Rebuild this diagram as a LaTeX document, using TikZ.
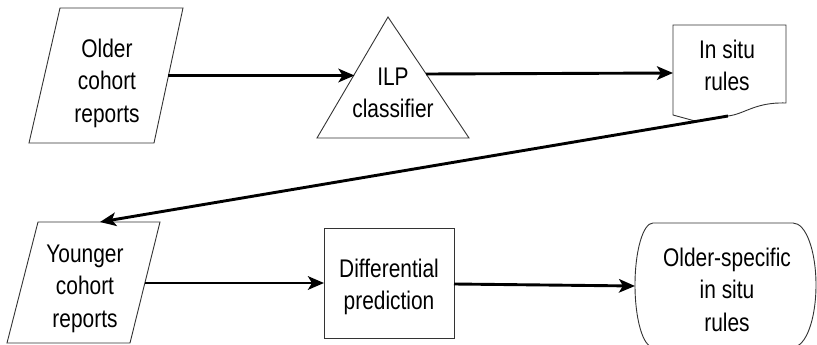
\documentclass[tikz,border=0pt]{standalone}
\usepackage{fontspec}
\setmainfont{Liberation Sans}[FakeStretch=0.82]
\usetikzlibrary{arrows.meta}
\begin{document}
\begin{tikzpicture}[x=1pt,y=-1pt,
  shapeline/.style={draw=black!80, line width=0.9pt},
  label/.style={align=center, font=\fontsize{25.5}{32.5}\selectfont, inner sep=0pt},
  flow/.style={line width=2.9pt, -{Stealth[length=16pt,width=13.5pt,inset=4pt]}}]
\useasboundingbox (0,0) rectangle (817,345);
\begin{scope}
\clip (0,0) rectangle (817,345);

% Older cohort reports (parallelogram)
\draw[shapeline] (60,8) -- (183,8) -- (154,143) -- (29,143) -- cycle;
\node[label] (older) at (107,83) {Older\\cohort\\reports};
\coordinate (olderR) at (168.4,75.5);

% ILP classifier (triangle)
\draw[shapeline] (388,17) -- (469,138) -- (317,138) -- cycle;
\node[label] (ilp) at (393,93) {ILP\\classifier};
\coordinate (ilpL) at (354.5,75.5);
\coordinate (ilpR) at (426,74);

% In situ rules (document)
\draw[shapeline] (673,25) -- (786,25) -- (786,103)
  .. controls (755,102) and (745,114) .. (728,116)
  .. controls (712,119) and (700,121) .. (695,121) -- (673,115) -- cycle;
\node[label] (insitu) at (727,65.5) {In situ\\rules};
\coordinate (insituL) at (673,73);
\coordinate (insituB) at (728,116);

% Younger cohort reports (parallelogram)
\draw[shapeline] (38,222) -- (160,222) -- (130,343) -- (7,343) -- cycle;
\node[label] (younger) at (85,288.5) {Younger\\cohort\\reports};
\coordinate (youngerT) at (100,222);
\coordinate (youngerR) at (145,283);

% Differential prediction (process box)
\draw[shapeline] (324,228) rectangle (454,338);
\node[label] (diff) at (389,287) {Differential\\prediction};
\coordinate (diffL) at (324,283);
\coordinate (diffR) at (454,284);

% Older-specific in situ rules (terminal)
\draw[shapeline] (653,223) -- (793,223)
  .. controls (806,223) and (816,251) .. (816,285)
  .. controls (816,319) and (806,347) .. (793,347)
  -- (653,347)
  .. controls (643,347) and (635,319) .. (635,285)
  .. controls (635,251) and (643,223) .. (653,223) -- cycle;
\node[label] (specific) at (727,289.5) {Older-specific\\in situ\\rules};
\coordinate (specificL) at (635,286);
\end{scope}

% Connectors
\draw[flow] (olderR) -- (ilpL);
\draw[flow] (ilpR) -- (insituL);
\draw[flow] (insituB) -- (youngerT);
\draw[flow] (youngerR) -- (diffL);
\draw[flow] (diffR) -- (specificL);
\end{tikzpicture}
\end{document}
